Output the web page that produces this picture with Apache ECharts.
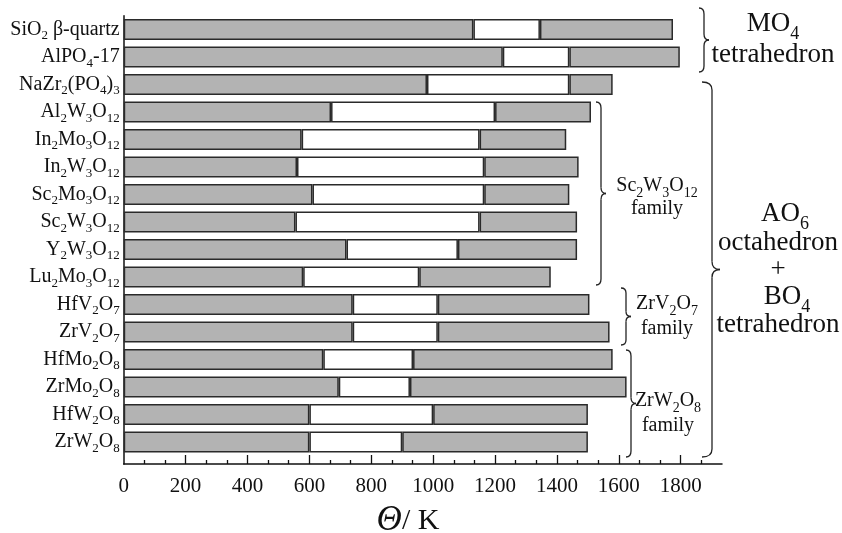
<!DOCTYPE html>
<html>
<head>
<meta charset="utf-8">
<script src="https://cdn.jsdelivr.net/npm/echarts@6/dist/echarts.min.js"></script>
<style>
html, body { margin: 0; padding: 0; background: #fff; }
#main { width: 842px; height: 533px; }
</style>
</head>
<body>
<div id="main"></div>
<script>
// 材料名（从上到下），{s|..} 表示下标
var materials = [
    'SiO{s|2} β-quartz', 'AlPO{s|4}-17', 'NaZr{s|2}(PO{s|4}){s|3}',
    'Al{s|2}W{s|3}O{s|12}', 'In{s|2}Mo{s|3}O{s|12}', 'In{s|2}W{s|3}O{s|12}',
    'Sc{s|2}Mo{s|3}O{s|12}', 'Sc{s|2}W{s|3}O{s|12}', 'Y{s|2}W{s|3}O{s|12}',
    'Lu{s|2}Mo{s|3}O{s|12}', 'HfV{s|2}O{s|7}', 'ZrV{s|2}O{s|7}',
    'HfMo{s|2}O{s|8}', 'ZrMo{s|2}O{s|8}', 'HfW{s|2}O{s|8}', 'ZrW{s|2}O{s|8}'
];
// 负热膨胀区间的下限 / 上限，以及整条的终点 (K)
var lowT  = [1130, 1225, 980, 670, 575, 560, 610, 555, 720, 580, 740, 740, 645, 695, 600, 600];
var highT = [1345, 1440, 1440, 1200, 1150, 1165, 1165, 1150, 1080, 955, 1015, 1015, 935, 925, 1000, 900];
var endT  = [1775, 1797, 1580, 1510, 1430, 1470, 1440, 1465, 1465, 1380, 1505, 1570, 1580, 1625, 1500, 1500];
// 坐标轴刻度
var tickLabels = [0, 200, 400, 600, 800, 1000, 1200, 1400, 1600, 1800];
var xMax = 1933.33;

var FONT = 'Liberation Serif';
var GRAY = '#b3b3b3';
var EDGE = '#2a2a2a';

// 堆叠用的分段长度
var midPart = [], topPart = [];
for (var i = 0; i < lowT.length; i++) {
    midPart.push(highT[i] - lowT[i]);
    topPart.push(endT[i] - highT[i]);
}
// 小刻度：每 200 分三格
var minorTicks = [];
for (var k = 1; k * 200 / 3 <= xMax + 0.1; k++) {
    if (k % 3 !== 0) minorTicks.push(k * 200 / 3);
}

var chart = echarts.init(document.getElementById('main'));

var barStyle = function (color) {
    return { color: color, borderColor: EDGE, borderWidth: 1.5 };
};

// 花括号
function brace(x0, x1, x2, yTop, yBot, r) {
    var ym = (yTop + yBot) / 2;
    var st = { stroke: '#222', lineWidth: 1.3, fill: null };
    return [
        { type: 'bezierCurve', shape: { x1: x0, y1: yTop, x2: x1, y2: yTop + r, cpx1: x1, cpy1: yTop }, style: st },
        { type: 'line', shape: { x1: x1, y1: yTop + r, x2: x1, y2: ym - r }, style: st },
        { type: 'bezierCurve', shape: { x1: x1, y1: ym - r, x2: x2, y2: ym, cpx1: x1, cpy1: ym }, style: st },
        { type: 'bezierCurve', shape: { x1: x2, y1: ym, x2: x1, y2: ym + r, cpx1: x1, cpy1: ym }, style: st },
        { type: 'line', shape: { x1: x1, y1: ym + r, x2: x1, y2: yBot - r }, style: st },
        { type: 'bezierCurve', shape: { x1: x1, y1: yBot - r, x2: x0, y2: yBot, cpx1: x1, cpy1: yBot }, style: st }
    ];
}

// 行高加大让下标 (verticalAlign: bottom) 往下沉
function note(text, x, y, size) {
    var sub = Math.round(size * 0.68);
    return {
        type: 'text', x: x, y: y,
        style: {
            text: text, fill: '#111', fontFamily: FONT, fontSize: size,
            align: 'center', verticalAlign: 'middle', lineHeight: Math.round(size * 1.4),
            rich: {
                s: { fontSize: sub, fontFamily: FONT, fill: '#111', verticalAlign: 'bottom' },
                it: { fontSize: size + 5, fontFamily: FONT, fill: '#111', fontStyle: 'italic' }
            }
        }
    };
}

var graphics = []
    .concat(brace(699, 704, 709, 8, 72, 6))
    .concat(brace(702, 712, 720, 82, 457, 8))
    .concat(brace(596, 601, 606, 102, 285, 6))
    .concat(brace(621, 626, 631, 288, 345, 5))
    .concat(brace(626, 631, 636, 350, 457, 6));

graphics.push(
    note('MO{s|4}', 773, 24, 27),
    note('tetrahedron', 773, 55, 27),
    note('Sc{s|2}W{s|3}O{s|12}', 657, 186, 20),
    note('family', 657, 209, 20),
    note('ZrV{s|2}O{s|7}', 667, 304, 20),
    note('family', 667, 329, 20),
    note('ZrW{s|2}O{s|8}', 668, 401, 20),
    note('family', 668, 426, 20),
    note('AO{s|6}', 785, 214, 27),
    note('octahedron', 778, 243, 27),
    note('+', 778, 270, 27),
    note('BO{s|4}', 787, 297, 27),
    note('tetrahedron', 778, 325, 27),
    note('{it|Θ}/ K', 408, 521, 30)
);

var option = {
    animation: false,
    backgroundColor: '#fff',
    grid: [
        { left: 123.7, right: 120, top: 15.75, height: 440, outerBoundsMode: 'none' },
        { left: 123.7, right: 120, top: 15.75, bottom: 69, outerBoundsMode: 'none' }
    ],
    xAxis: [
        { gridIndex: 0, type: 'value', min: 0, max: xMax, show: false },
        {
            gridIndex: 1, type: 'value', min: 0, max: xMax, position: 'bottom',
            axisLine: { show: true, onZero: false, lineStyle: { color: '#111', width: 1.5 } },
            axisTick: { show: true, inside: true, length: 4, customValues: minorTicks, lineStyle: { color: '#111', width: 1.3 } },
            axisLabel: { show: false },
            splitLine: { show: false }
        },
        {
            gridIndex: 1, type: 'value', min: 0, max: xMax, position: 'bottom',
            axisLine: { show: false, onZero: false },
            axisTick: { show: true, inside: true, length: 9, customValues: tickLabels.slice(1), lineStyle: { color: '#111', width: 1.3 } },
            axisLabel: {
                customValues: tickLabels, margin: 12, fontFamily: FONT, fontSize: 21, color: '#111',
                formatter: function (v) { return String(Math.round(v)); }
            },
            splitLine: { show: false }
        }
    ],
    yAxis: [
        {
            gridIndex: 0, type: 'category', inverse: true, data: materials,
            axisLine: { show: false }, axisTick: { show: false },
            axisLabel: {
                interval: 0, showMinLabel: true, showMaxLabel: true, hideOverlap: false,
                margin: 4, fontFamily: FONT, fontSize: 20, color: '#111', lineHeight: 26,
                rich: { s: { fontFamily: FONT, fontSize: 13, color: '#111', verticalAlign: 'bottom' } }
            }
        },
        {
            gridIndex: 1, type: 'value', min: 0, max: 1,
            axisLine: { show: true, onZero: false, lineStyle: { color: '#111', width: 1.5 } },
            axisTick: { show: false }, axisLabel: { show: false }, splitLine: { show: false }
        }
    ],
    series: [
        { type: 'bar', stack: 'T', xAxisIndex: 0, yAxisIndex: 0, barWidth: 21, data: lowT, itemStyle: barStyle(GRAY), silent: true },
        { type: 'bar', stack: 'T', xAxisIndex: 0, yAxisIndex: 0, barWidth: 21, data: midPart, itemStyle: barStyle('#fff'), silent: true },
        { type: 'bar', stack: 'T', xAxisIndex: 0, yAxisIndex: 0, barWidth: 21, data: topPart, itemStyle: barStyle(GRAY), silent: true }
    ],
    graphic: graphics
};

chart.setOption(option);
</script>
</body>
</html>
